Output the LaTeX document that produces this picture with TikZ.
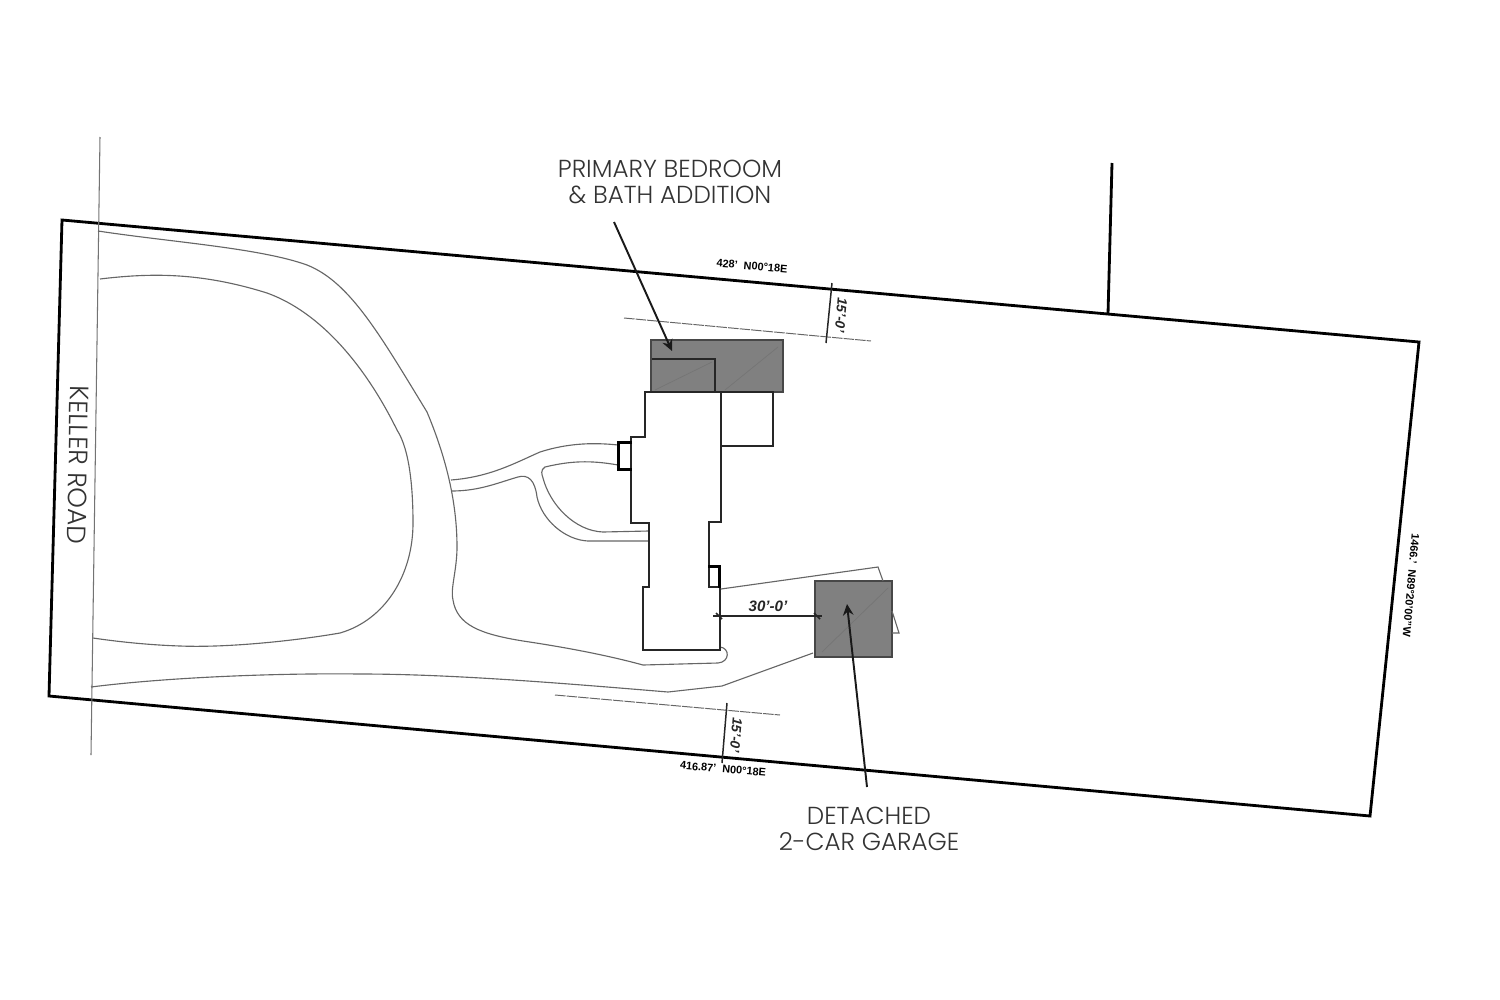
\documentclass[tikz,border=0pt]{standalone}
\usepackage{fontspec}
\newfontfamily\labelfont[UprightFont=* Light]{Poppins}
\setmainfont{Liberation Sans}
\usetikzlibrary{arrows.meta}
\tikzset{
	lotline/.style={black, line width=0.8pt, line join=miter},
	roadline/.style={black!55, line width=0.3pt},
	driveline/.style={black!60, line width=0.32pt},
	wall/.style={black!85, line width=0.4pt},
	thickwall/.style={black, line width=0.85pt},
	addition/.style={fill=black!50, draw=black!72, line width=0.4pt},
	setback/.style={black!60, line width=0.28pt, dash pattern=on 3pt off 0.3pt},
	dimline/.style={black!85, line width=0.42pt},
	callout/.style={-{Stealth[length=3.2pt,width=3pt]}, black!90, line width=0.55pt},
	caption/.style={font=\labelfont\fontsize{7}{7.4}\selectfont, text=black!80, align=center, inner sep=0pt},
	dimlabel/.style={font=\bfseries\fontsize{3.1}{3.4}\selectfont, text=black, inner sep=0pt},
	dimbig/.style={font=\bfseries\itshape\fontsize{4.3}{5}\selectfont, text=black!85, inner sep=0pt},
	dimside/.style={font=\bfseries\itshape\fontsize{3.9}{4}\selectfont, text=black!85, inner sep=0pt, rotate=-95},
}
\begin{document}
\begin{tikzpicture}[x=0.01cm, y=-0.01cm]
	\useasboundingbox (0,0) rectangle (1500,1000);
	
	% lot corners
	\coordinate (nw) at (62,220);
	\coordinate (ne) at (1419,342);
	\coordinate (se) at (1370,816);
	\coordinate (sw) at (49,696);
	\draw[lotline] (nw) -- (ne) -- (se) -- (sw) -- cycle;
	\draw[lotline] (1112,163) -- (1108,314);
	
	% road edge
	\draw[roadline] (100,137) -- (91,755);
	
	% driveway
	\draw[driveline] (98,231) .. controls (170,242) and (260,248) .. (307,265) .. controls (350,282) and (380,335) .. (427,412) .. controls (445,455) and (457,500) .. (457,547) .. controls (457,570) and (450,590) .. (453,600) .. controls (457,625) and (480,634) .. (523,641) .. controls (570,648) and (610,656) .. (643,665) -- (718,663) .. controls (730,662) and (730,648) .. (720,647);
	\draw[driveline] (100,279) .. controls (150,273) and (200,272) .. (267,293) .. controls (320,312) and (365,365) .. (397,430) .. controls (410,450) and (413,490) .. (413,523) .. controls (413,575) and (385,620) .. (340,633) .. controls (300,640) and (230,648) .. (180,646) .. controls (150,645) and (120,642) .. (93,638);
	\draw[driveline] (91,687) .. controls (170,677) and (280,673) .. (360,674) .. controls (450,674) and (560,683) .. (668,692) -- (722,686) -- (813,653);
	
	% walk to the front door
	\draw[driveline] (451,480) .. controls (490,477) and (515,463) .. (540,452) .. controls (565,444) and (590,442) .. (618,445);
	\draw[driveline] (452,491) .. controls (480,491) and (500,482) .. (518,477) .. controls (528,474) and (535,480) .. (537,497) .. controls (542,520) and (565,540) .. (588,541) -- (649,541);
	\draw[driveline] (618,465) .. controls (590,460) and (570,461) .. (545,467) .. controls (540,470) and (542,475) .. (543,478) .. controls (550,505) and (575,531) .. (603,532) -- (649,531);
	
	% new work
	\draw[addition] (651,340) rectangle (783,392);
	\draw[wall] (652,359) -- (715,359) -- (715,392);
	\draw[addition] (815,581) rectangle (892,657);
	\draw[black!54, line width=0.2pt] (655,390) -- (712,362);
	\draw[black!54, line width=0.2pt] (725,390) -- (778,347);
	\draw[black!54, line width=0.2pt] (822,652) -- (888,588);
	
	% house
	\draw[wall] (645,392) -- (721,392) -- (721,522) -- (709,522) -- (709,587) -- (720,587) -- (720,650) -- (643,650) -- (643,587) -- (649,587) -- (649,523) -- (631,523) -- (631,437) -- (645,437) -- cycle;
	\draw[wall] (722,392) -- (773,392) -- (773,446) -- (721,446);
	\draw[thickwall] (632,442) -- (618,442) -- (618,469) -- (632,469);
	\draw[thickwall] (708,566) -- (719.5,566) -- (719.5,588);
	
	% garage apron
	\draw[driveline] (721,589) -- (878,567) -- (883,581);
	\draw[driveline] (892,611) -- (899,633) -- (892,633);
	
	% setbacks
	\draw[setback] (624,318) -- (871,341);
	\draw[setback] (555,695) -- (780,715);
	\draw[dimline] (832,283) -- (826,343);
	\draw[dimline] (727,703) -- (722,763);
	\draw[dimline] (713,616) -- (822,616);
	\draw[dimline] (716,613) -- (722,619);
	\draw[dimline] (814,613) -- (820,619);
	
	% dimension labels
	\node[dimside] (northgap) at (841,315) {15'-0'};
	\node[dimside] (southgap) at (736,735) {15'-0'};
	\node[dimbig] (garagegap) at (768,606) {30'-0'};
	\node[dimlabel, rotate=-5] (northedge) at (752,266) {428'\ \ N00°18E};
	\node[dimlabel, rotate=-5] (southedge) at (723,769) {416.87'\ \ N00°18E};
	\node[dimlabel, rotate=-95] (eastedge) at (1411,585) {1466.'\ \ N89°20'00"W};
	
	% captions
	\node[caption] (bedroom) at (670,182) {PRIMARY BEDROOM\\\& BATH ADDITION};
	\node[caption] (garage) at (869,829) {DETACHED\\2-CAR GARAGE};
	\node[caption, rotate=-91, font=\labelfont\fontsize{7.5}{8}\selectfont] (road) at (78,465) {KELLER ROAD};
	
	% callouts
	\coordinate (bedroomstart) at (614,222);
	\coordinate (bedroomtip) at (672,351);
	\coordinate (garagestart) at (867,787);
	\coordinate (garagetip) at (847,604);
	\draw[callout] (bedroomstart) -- (bedroomtip);
	\draw[callout] (garagestart) -- (garagetip);
\end{tikzpicture}
\end{document}
